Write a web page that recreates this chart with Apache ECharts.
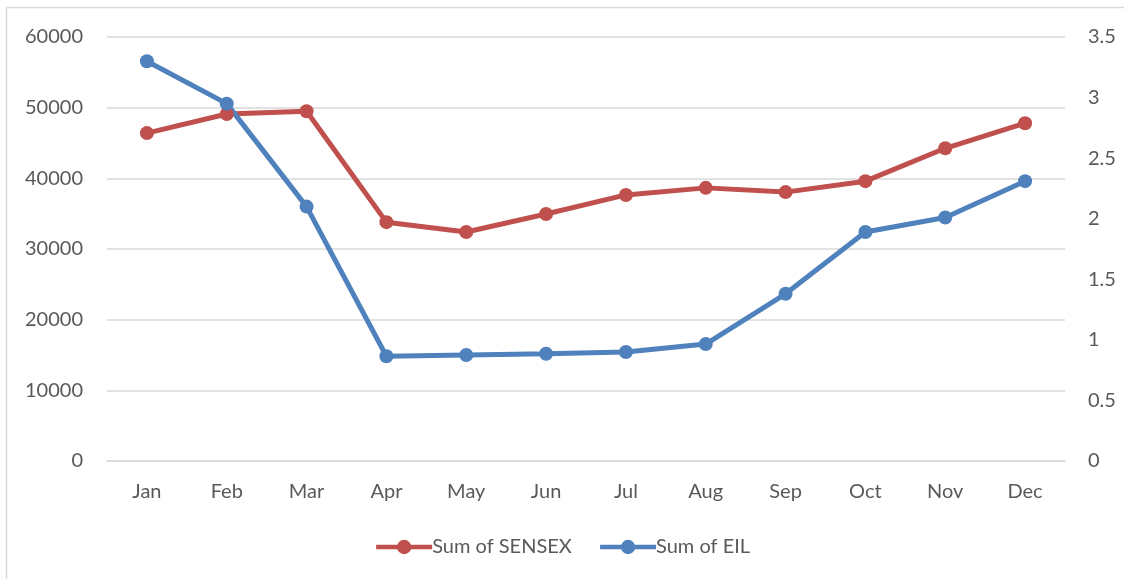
<!DOCTYPE html>
<html>
<head>
<meta charset="utf-8">
<script src="https://cdn.jsdelivr.net/npm/echarts@6/dist/echarts.min.js"></script>
<style>
  html, body { margin: 0; padding: 0; background: #fff; }
  #main { width: 1124px; height: 579px; }
</style>
</head>
<body>
<div id="main"></div>
<script>
// months on x axis
var months = ['Jan', 'Feb', 'Mar', 'Apr', 'May', 'Jun', 'Jul', 'Aug', 'Sep', 'Oct', 'Nov', 'Dec'];
// left axis series
var sensex = [46400, 49100, 49500, 33800, 32400, 34950, 37650, 38650, 38050, 39600, 44250, 47800];
// right axis series
var eil = [3.30, 2.95, 2.10, 0.865, 0.875, 0.885, 0.90, 0.965, 1.38, 1.89, 2.01, 2.31];

var chart = echarts.init(document.getElementById('main'));
var font = 'Lato, "Open Sans", sans-serif';
var option = {
    animation: false,
    backgroundColor: '#fff',
    color: ['#c0504d', '#4f81bd'],
    graphic: [
        { type: 'line', shape: { x1: 6.5, y1: 7.5, x2: 1124, y2: 7.5 }, style: { stroke: '#d9d9d9', lineWidth: 1.5 } },
        { type: 'line', shape: { x1: 6.5, y1: 7.5, x2: 6.5, y2: 579 }, style: { stroke: '#d9d9d9', lineWidth: 1.5 } }
    ],
    grid: { left: 107, right: 59, top: 37, bottom: 118 },
    legend: {
        bottom: 17,
        left: 'center',
        itemWidth: 56,
        itemHeight: 18,
        itemGap: 26,
        lineStyle: { width: 4.5 },
        textStyle: { color: '#595959', fontSize: 20, fontFamily: font, padding: [0, 0, 0, -5] },
        data: ['Sum of SENSEX', 'Sum of EIL']
    },
    xAxis: {
        type: 'category',
        data: months,
        boundaryGap: true,
        axisLine: { lineStyle: { color: '#d9d9d9', width: 1.5 } },
        axisTick: { show: false },
        axisLabel: { color: '#595959', fontSize: 20, fontFamily: font, margin: 21 }
    },
    yAxis: [
        {
            type: 'value', min: 0, max: 60000, interval: 10000,
            axisLine: { show: false }, axisTick: { show: false },
            splitLine: { lineStyle: { color: '#d9d9d9', width: 1.5 } },
            axisLabel: {
                color: '#595959', fontSize: 20, fontFamily: font, margin: 24,
                formatter: function (v) { return String(v); }
            }
        },
        {
            type: 'value', min: 0, max: 3.5, interval: 0.5,
            axisLine: { show: false }, axisTick: { show: false },
            splitLine: { show: false },
            axisLabel: { color: '#595959', fontSize: 20, fontFamily: font, margin: 23 }
        }
    ],
    series: [
        {
            name: 'Sum of SENSEX', type: 'line', yAxisIndex: 0, data: sensex,
            symbol: 'circle', symbolSize: 14,
            lineStyle: { width: 5 }
        },
        {
            name: 'Sum of EIL', type: 'line', yAxisIndex: 1, data: eil,
            symbol: 'circle', symbolSize: 14,
            lineStyle: { width: 5 }
        }
    ]
};
chart.setOption(option);
</script>
</body>
</html>
